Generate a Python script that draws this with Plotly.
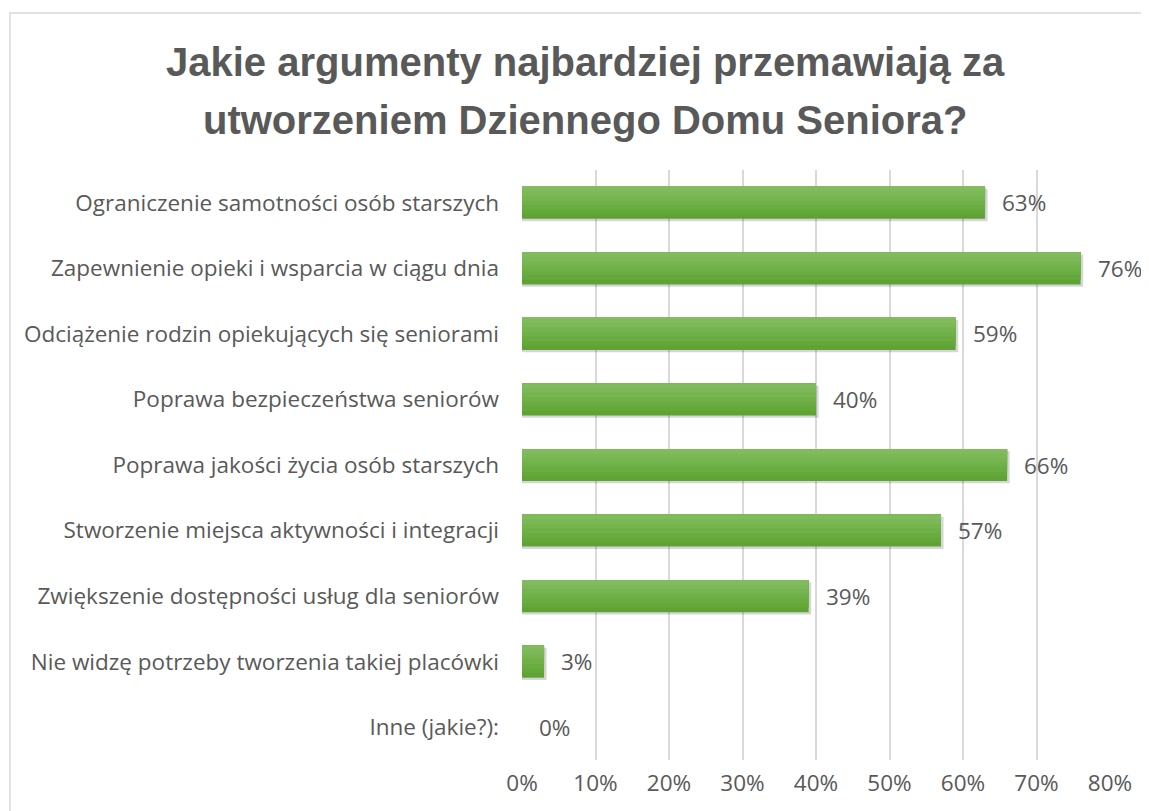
import plotly.graph_objects as go

categories = [
    "Ograniczenie samotności osób starszych",
    "Zapewnienie opieki i wsparcia w ciągu dnia",
    "Odciążenie rodzin opiekujących się seniorami",
    "Poprawa bezpieczeństwa seniorów",
    "Poprawa jakości życia osób starszych",
    "Stworzenie miejsca aktywności i integracji",
    "Zwiększenie dostępności usług dla seniorów",
    "Nie widzę potrzeby tworzenia takiej placówki",
    "Inne (jakie?):",
]
values = [63, 76, 59, 40, 66, 57, 39, 3, 0]
x_ticks = [0, 10, 20, 30, 40, 50, 60, 70, 80]
title_lines = ["Jakie argumenty najbardziej przemawiają za", "utworzeniem Dziennego Domu Seniora?"]

FONT = "Open Sans"
GREY = "#595959"
BAR_W = 0.49
FS = 22.5

# dark at the bottom -> light on top, each layer covers the top part of the bar
shades = ["#5fa334", "#64a83a", "#6aac41", "#70b048", "#76b450", "#7cb857", "#81bb5e"]

fig = go.Figure()

# soft drop shadow under each bar
fig.add_trace(go.Bar(
    y=categories, x=[v + 0.35 if v else 0 for v in values], orientation="h",
    width=BAR_W, offset=-BAR_W / 2 + 0.035,
    marker=dict(color="rgba(0,0,0,0.16)", line=dict(width=0)),
    hoverinfo="skip", showlegend=False,
))

n = len(shades)
for i, c in enumerate(shades):
    h = BAR_W * (1 - i / n)
    fig.add_trace(go.Bar(
        y=categories, x=values, orientation="h",
        width=h, offset=-BAR_W / 2,
        marker=dict(color=c, line=dict(width=0)),
        showlegend=False,
    ))

for cat, v in zip(categories, values):
    fig.add_annotation(
        x=v, y=cat, text=f"{v}%", showarrow=False,
        xanchor="left", xshift=15,
        font=dict(family=FONT, size=FS, color=GREY),
    )

# page has an 8px body margin, so the plot area on screen is 522..1110 x 170..760
for line, py in zip(title_lines, [62, 120]):
    fig.add_annotation(
        x=(585 - 522) / 588, y=(760 - py) / 590, xref="paper", yref="paper",
        text=line, showarrow=False, xanchor="center", yanchor="middle",
        font=dict(family="Liberation Sans", size=40, color=GREY, weight="bold"),
    )

fig.update_layout(
    width=1149, height=811,
    margin=dict(l=514, r=47, t=162, b=59),
    paper_bgcolor="white", plot_bgcolor="white",
    barmode="overlay", bargap=0.51,
    font=dict(family=FONT, size=FS, color=GREY),
    xaxis=dict(
        range=[0, 80], tickvals=x_ticks, ticktext=[f"{t}%" for t in x_ticks],
        showgrid=True, gridcolor="#d9d9d9", gridwidth=1.5,
        zeroline=False, showline=False, ticks="", ticklabelstandoff=7,
        tickfont=dict(size=FS, color=GREY), automargin=False,
    ),
    yaxis=dict(
        autorange="reversed", showgrid=False, zeroline=False, showline=False,
        ticks="", ticklabelstandoff=22, tickfont=dict(size=FS, color=GREY),
        automargin=False,
    ),
    shapes=[dict(
        type="rect", xref="paper", yref="paper",
        x0=(10 - 522) / 588, x1=(1250 - 522) / 588,
        y0=(760 - 900) / 590, y1=(760 - 13) / 590,
        line=dict(color="#d9d9d9", width=1.5), fillcolor="rgba(0,0,0,0)", layer="below",
    )],
)

fig.write_html("out.html")
